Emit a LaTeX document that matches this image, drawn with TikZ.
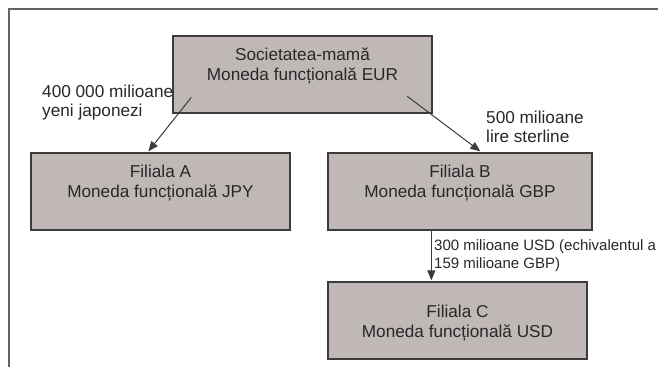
\documentclass[tikz,border=0pt]{standalone}
\usepackage{fontspec}
\setmainfont{Liberation Sans}
\usetikzlibrary{arrows.meta,calc}
\definecolor{boxfill}{RGB}{191,184,182}
\definecolor{boxline}{RGB}{60,60,60}
\definecolor{txt}{RGB}{40,40,40}
\begin{document}
\begin{tikzpicture}[x=1pt,y=-1pt,
  entity/.style={draw=boxline,fill=boxfill,line width=1.3pt,minimum height=77pt,inner sep=0pt},
  boxtext/.style={anchor=base,align=center,inner sep=0pt,text=txt,font=\fontsize{17.2}{20}\selectfont},
  lbl/.style={anchor=base west,align=left,inner sep=0pt,text=txt,font=\fontsize{17.2}{19}\selectfont},
  smalllbl/.style={anchor=base west,align=left,inner sep=0pt,text=txt,font=\fontsize{15}{18}\selectfont},
  conn/.style={draw=boxline,line width=1pt,-{Triangle[length=10pt,width=8pt]}},
  frameline/.style={draw=boxline!80,line width=1.2pt}]
\useasboundingbox[fill=white] (0,0) rectangle (658,367);
% frame
\coordinate (f1) at (9,367);
\coordinate (f2) at (9,9);
\coordinate (f3) at (658,9);
\draw[frameline] (f1) -- (f2) -- (f3);
% boxes
\node[entity,minimum width=259pt] (P) at (302.5,74.5) {};
\node[entity,minimum width=259pt] (A) at (160.5,191.5) {};
\node[entity,minimum width=264pt] (B) at (460,191.5) {};
\node[entity,minimum width=259pt] (C) at (457.5,320.5) {};
\node[boxtext] (Pt) at ($(P.north)+(0,45)$) {Societatea-mamă\\Moneda funcțională EUR};
\node[boxtext] (At) at ($(A.north)+(0,45)$) {Filiala A\\Moneda funcțională JPY};
\node[boxtext] (Bt) at ($(B.north)+(0,45)$) {Filiala B\\Moneda funcțională GBP};
\node[boxtext] (Ct) at ($(C.north)+(0,56)$) {Filiala C\\Moneda funcțională USD};
% connectors
\coordinate (pa) at ($(P.north west)+(19,62)$);
\coordinate (pb) at ($(P.north west)+(235,61)$);
\draw[conn] (pa) -- ($(A.north west)+(118,-1)$);
\draw[conn] (pb) -- ($(B.north west)+(153,-1)$);
\draw[conn] ($(B.south west)+(104,0)$) -- ($(C.north west)+(104,-1)$);
% labels
\node[lbl] (l1) at (42,116) {400 000 milioane\\yeni japonezi};
\node[lbl] (l2) at (486,142) {500 milioane\\lire sterline};
\node[smalllbl] (l3) at (434,268) {300 milioane USD (echivalentul a\\159 milioane GBP)};
\end{tikzpicture}
\end{document}
